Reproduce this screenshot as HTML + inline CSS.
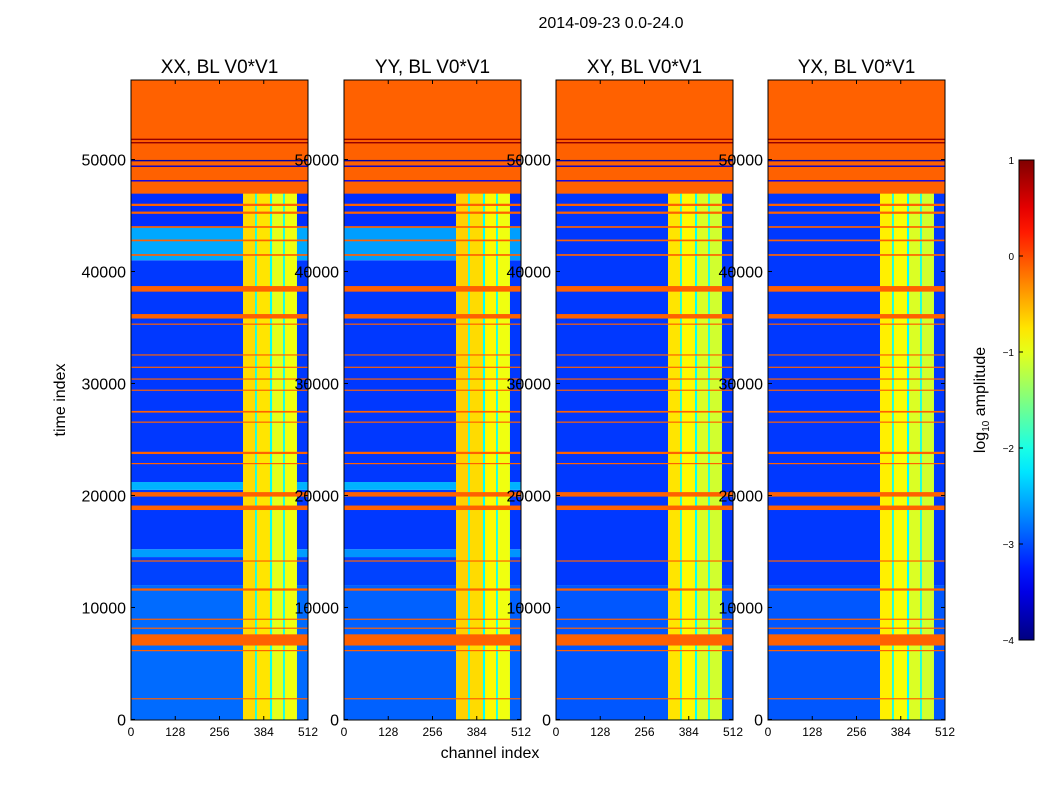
<!DOCTYPE html>
<html><head><meta charset="utf-8"><style>
html,body{margin:0;padding:0;background:#fff;}
svg{display:block;font-family:"Liberation Sans","DejaVu Sans",sans-serif;}
</style></head><body>
<svg id="chart" width="1050" height="800" viewBox="0 0 1050 800" xmlns="http://www.w3.org/2000/svg">
<text x="611" y="28" font-size="16" text-anchor="middle">2014-09-23 0.0-24.0</text>
<g id="panels"></g>
<g id="cbar"></g>
<text x="490" y="758" font-size="16" text-anchor="middle">channel index</text>
<text transform="translate(65,400) rotate(-90)" font-size="16" text-anchor="middle">time index</text>
<text transform="translate(985,400) rotate(-90)" font-size="16" text-anchor="middle">log<tspan font-size="10" dy="4">10</tspan><tspan dy="-4"> amplitude</tspan></text>
</svg>
<script>
// ---- data ----
const panelTitles = ["XX, BL V0*V1","YY, BL V0*V1","XY, BL V0*V1","YX, BL V0*V1"];
const xTicks = [0,128,256,384,512];
const yTicks = [0,10000,20000,30000,40000,50000];
const cbarTicks = [1,0,-1,-2,-3,-4];
// background log amplitude by time segment [start,end,value] per panel
const bgSegments = [
  [[0,12000,-2.85],[12000,14500,-3.05],[14500,15200,-2.6],[15200,20500,-3.1],[20500,21200,-2.5],[21200,41000,-3.1],[41000,44000,-2.55],[44000,47000,-3.15]],
  [[0,12000,-2.9],[12000,14500,-3.05],[14500,15200,-2.65],[15200,20500,-3.1],[20500,21200,-2.5],[21200,41000,-3.1],[41000,44000,-2.6],[44000,47000,-3.15]],
  [[0,12000,-2.95],[12000,47000,-3.1]],
  [[0,12000,-2.95],[12000,47000,-3.1]]
];
// bright channel columns [chStart,chEnd]
const colBands = [[324,359],[364,402],[408,440],[445,480]];
// column log amplitude per panel
const colLevels = [
  [-0.7,-0.75,-1.0,-0.95],
  [-0.65,-0.7,-0.85,-0.95],
  [-0.75,-0.85,-1.05,-1.1],
  [-0.8,-0.9,-1.05,-1.1]
];
const gapLevel = -2.1;
// flagged (constant) time ranges [start,end]
const flagged = [
  [46950,57100],[45850,46050],[45150,45350],[43900,44050],[42700,42850],[41400,41550],
  [38200,38700],[35800,36200],[35250,35350],[32500,32600],[31400,31500],[30350,30450],
  [29350,29450],[27400,27550],[26500,26600],[23700,23900],[22800,22900],[19900,20300],
  [18700,19100],[14100,14200],[11500,11700],[8900,9000],[8100,8200],[6600,7600],[6100,6200],[1800,1900]
];
// dark/blue lines inside top flagged block [time,value]
const flagLines = [[51800,0.9],[51500,0.9],[49900,-3.8],[49400,-3.6],[48100,-3.4]];

// ---- scales ----
const panelX = [131,344,556,768], panelW = 177;
const yTop = 80, yBot = 720, tMax = 57100, tMin = -50;
function ty(t){ return yBot - (t - tMin)/(tMax - tMin)*(yBot - yTop); }
function cx(p,ch){ return panelX[p] + ch/512*panelW; }
function jet(v){
  const x = Math.max(0,Math.min(1,(v+4)/5));
  const c = f => Math.round(255*Math.max(0,Math.min(1,f)));
  return `rgb(${c(1.5-Math.abs(4*x-3))},${c(1.5-Math.abs(4*x-2))},${c(1.5-Math.abs(4*x-1))})`;
}
const NS = "http://www.w3.org/2000/svg";
function mk(tag, attrs, parent){ const e=document.createElementNS(NS,tag); for(const k in attrs) e.setAttribute(k,attrs[k]); parent.appendChild(e); return e; }

const gp = document.getElementById('panels');
for(let p=0;p<4;p++){
  const g = mk('g',{},gp);
  
  
  const x0 = panelX[p];
  bgSegments[p].forEach(s=>{
    const r = mk('rect',{x:x0,y:ty(s[1]),width:panelW,height:ty(s[0])-ty(s[1]),fill:jet(s[2])},g);
    
    
  });
  const gr = mk('rect',{x:cx(p,colBands[0][0]),y:ty(47000),width:cx(p,colBands[3][1])-cx(p,colBands[0][0]),height:ty(0)-ty(47000),fill:jet(gapLevel)},g);
  
  
  colBands.forEach((b,i)=>{
    const r = mk('rect',{x:cx(p,b[0]),y:ty(47000),width:cx(p,b[1])-cx(p,b[0]),height:ty(0)-ty(47000),fill:jet(colLevels[p][i])},g);
    
    
  });
  flagged.forEach(f=>{
    const r = mk('rect',{x:x0,y:ty(f[1]),width:panelW,height:Math.max(1.2,ty(f[0])-ty(f[1])),fill:jet(-0.1)},g);
    
    
  });
  flagLines.forEach(l=>{
    const r = mk('rect',{x:x0,y:ty(l[0])-0.7,width:panelW,height:1.4,fill:jet(l[1])},g);
    
    
  });
  const fr = mk('rect',{x:x0,y:yTop,width:panelW,height:yBot-yTop,fill:'none',stroke:'#000','stroke-width':1},g);
  
  
  const tt = mk('text',{x:x0+panelW/2,y:73,'font-size':19,'text-anchor':'middle'},g);
  tt.textContent = panelTitles[p];
  
  
  yTicks.forEach(t=>{
    const y = ty(t);
    mk('line',{x1:x0,x2:x0+4,y1:y,y2:y,stroke:'#000'},g);
    mk('line',{x1:x0+panelW,x2:x0+panelW-4,y1:y,y2:y,stroke:'#000'},g);
    const lb = mk('text',{x:x0-5,y:y+6,'font-size':16,'text-anchor':'end'},g);
    lb.textContent = t;
    
    
  });
  xTicks.forEach(t=>{
    const x = cx(p,t);
    mk('line',{x1:x,x2:x,y1:yBot,y2:yBot-4,stroke:'#000'},g);
    mk('line',{x1:x,x2:x,y1:yTop,y2:yTop+4,stroke:'#000'},g);
    const lb = mk('text',{x:x,y:736,'font-size':12,'text-anchor':'middle'},g);
    lb.textContent = t;
    
    
  });
}
// colorbar
const cb = document.getElementById('cbar');
const cbX=1019, cbW=15, cbTop=160, cbBot=640;
function cy(v){ return cbBot - (v+4)/5*(cbBot-cbTop); }
const defs = mk('defs',{},cb);
const lg = mk('linearGradient',{id:'jetg',x1:0,y1:1,x2:0,y2:0},defs);
for(let i=0;i<=20;i++){ mk('stop',{offset:i/20,'stop-color':jet(-4+5*i/20)},lg); }
const cr = mk('rect',{x:cbX,y:cbTop,width:cbW,height:cbBot-cbTop,fill:'url(#jetg)',stroke:'#000'},cb);


cbarTicks.forEach(v=>{
  const y = cy(v);
  mk('line',{x1:cbX,x2:cbX+4,y1:y,y2:y,stroke:'#000'},cb);
  const lb = mk('text',{x:cbX-5,y:y+4,'font-size':10,'text-anchor':'end'},cb);
  lb.textContent = v<0 ? '\u2212'+(-v) : v;
  
  
});
</script>
</body></html>
